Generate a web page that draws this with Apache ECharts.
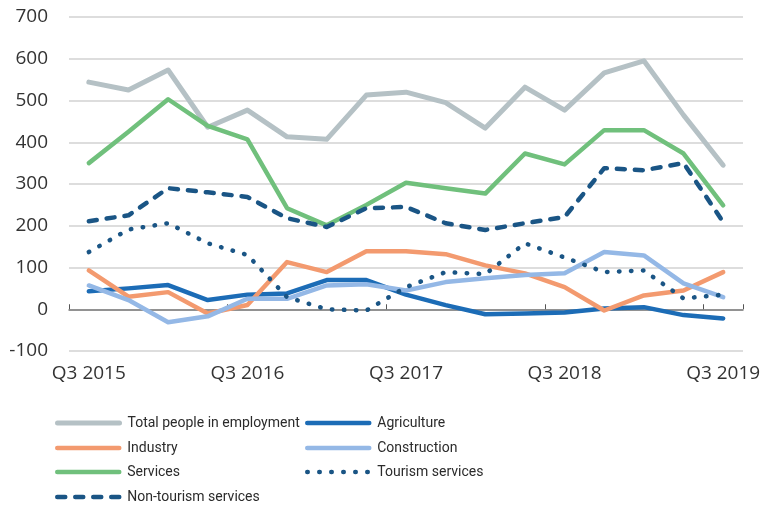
<!DOCTYPE html>
<html>
<head>
<meta charset="utf-8">
<script src="https://cdn.jsdelivr.net/npm/echarts@6/dist/echarts.min.js"></script>
<style>
  html, body { margin: 0; padding: 0; background: #fff; }
  #chart { width: 766px; height: 508px; }
</style>
</head>
<body>
<div id="chart"></div>
<script>
const quarters = [
  'Q3 2015', 'Q4 2015', 'Q1 2016', 'Q2 2016',
  'Q3 2016', 'Q4 2016', 'Q1 2017', 'Q2 2017',
  'Q3 2017', 'Q4 2017', 'Q1 2018', 'Q2 2018',
  'Q3 2018', 'Q4 2018', 'Q1 2019', 'Q2 2019',
  'Q3 2019'
];

const total        = [544, 525, 573, 436, 477, 413, 407, 513, 520, 495, 434, 532, 477, 566, 595, 465, 345];
const agriculture  = [43, 50, 58, 22, 35, 38, 70, 70, 35, 10, -12, -10, -8, 2, 5, -14, -22];
const industry     = [93, 30, 41, -10, 10, 113, 89, 139, 139, 132, 105, 86, 53, -3, 33, 45, 89];
const construction = [57, 22, -31, -17, 25, 25, 57, 60, 45, 65, 74, 82, 86, 137, 129, 62, 29];
const services     = [350, 425, 503, 439, 407, 242, 201, 250, 303, 290, 277, 373, 347, 429, 429, 373, 249];
const tourism      = [137, 191, 206, 158, 130, 29, 0, -3, 53, 89, 84, 158, 124, 89, 93, 26, 35];
const nonTourism   = [211, 225, 290, 280, 269, 218, 197, 242, 245, 206, 190, 206, 221, 338, 333, 350, 209];

const yTicks = { min: -100, max: 700, step: 100 };

const C = {
  total: '#b5c1c5',
  agri: '#1c6cb6',
  industry: '#f39a6f',
  constr: '#94b8e6',
  services: '#70c07c',
  navy: '#1a5585'
};

const chart = echarts.init(document.getElementById('chart'));

// a line series, every one goes on the label axis (xAxis 0)
function line(name, data, color, type, width) {
  return {
    name: name,
    type: 'line',
    data: data,
    xAxisIndex: 0,
    symbol: 'none',
    smooth: false,
    lineStyle: { color: color, width: width || 4.5, type: type || 'solid', cap: 'round', join: 'round' },
    itemStyle: { color: color },
    emphasis: { disabled: true }
  };
}

// legend slots: [name, column x, row centre y]
const legendSlots = [
  ['Total people in employment', 55, 422],
  ['Agriculture', 305, 422],
  ['Industry', 55, 447],
  ['Construction', 305, 447],
  ['Services', 55, 471],
  ['Tourism services', 305, 471],
  ['Non-tourism services', 55, 496]
];

const legends = legendSlots.map(function (s) {
  return {
    data: [s[0]], left: s[1], top: s[2] - 6, padding: 0,
    itemWidth: 62, itemHeight: 16, itemGap: 0,
    textStyle: { fontFamily: 'Roboto, sans-serif', fontSize: 14, color: '#2b2b2b', padding: [0, 0, 0, 3] },
    itemStyle: { opacity: 0 },
    lineStyle: { width: 'inherit' },
    selectedMode: false
  };
});

chart.setOption({
  animation: false,
  grid: { left: 69, right: 23, top: 17, bottom: 157 },
  legend: legends,
  xAxis: [
    {
      type: 'category', data: quarters, boundaryGap: true, position: 'bottom',
      axisLine: { show: false, onZero: false }, axisTick: { show: false },
      axisLabel: { interval: 3, margin: 13, fontSize: 19, color: '#333', fontFamily: "'Open Sans', sans-serif" },
      splitLine: { show: false }
    },
    {
      type: 'category', data: quarters, boundaryGap: true, position: 'bottom',
      axisLine: { show: true, onZero: true, lineStyle: { color: '#7a7a7a', width: 1.5 } },
      axisTick: { show: true, inside: true, interval: 3, length: 5, lineStyle: { color: '#555', width: 1 } },
      axisLabel: { show: false },
      splitLine: { show: false }
    }
  ],
  yAxis: {
    type: 'value', min: yTicks.min, max: yTicks.max, interval: yTicks.step,
    axisLine: { show: false }, axisTick: { show: false },
    axisLabel: { margin: 21, fontSize: 19, color: '#333', fontFamily: "'Open Sans', sans-serif" },
    splitLine: { lineStyle: { color: '#d2d2d2', width: 1.5 } }
  },
  series: [
    line('Total people in employment', total, C.total, 'solid', 5),
    line('Agriculture', agriculture, C.agri),
    line('Industry', industry, C.industry),
    line('Construction', construction, C.constr),
    line('Services', services, C.services),
    line('Tourism services', tourism, C.navy, [0.5, 11.5], 4.5),
    line('Non-tourism services', nonTourism, C.navy, [8, 10], 4.5)
  ]
});
</script>
</body>
</html>
